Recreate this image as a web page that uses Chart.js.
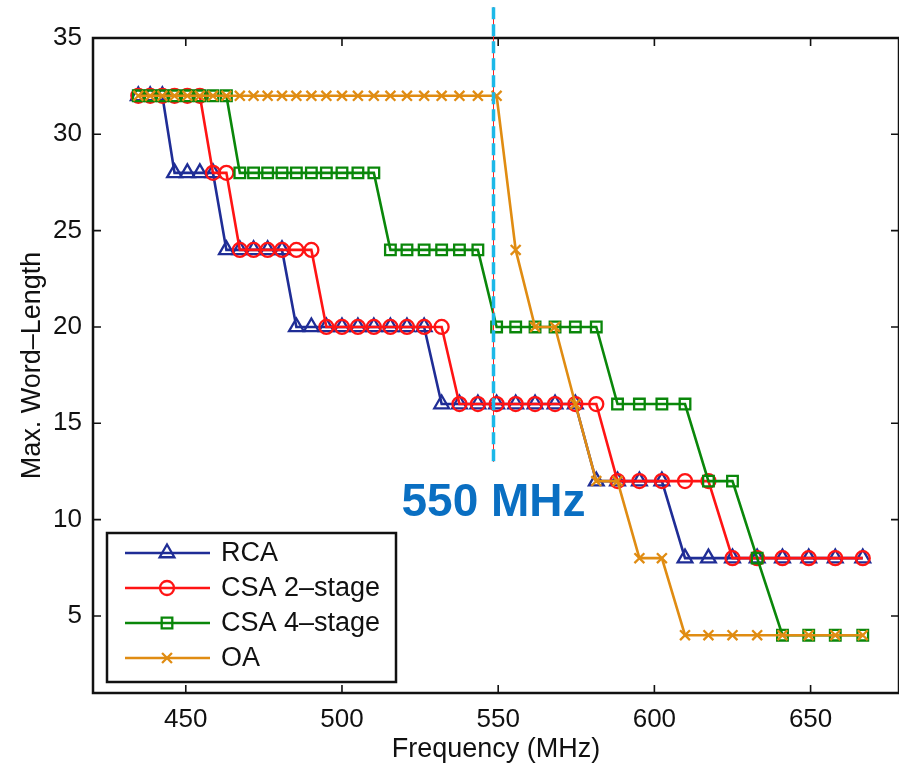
<!DOCTYPE html>
<html>
<head>
<meta charset="utf-8">
<script src="https://cdn.jsdelivr.net/npm/chart.js@4.4.1/dist/chart.umd.min.js"></script>
<style>
  html, body { margin: 0; padding: 0; background: #fff; }
  #wrap { width: 899px; height: 769px; }
</style>
</head>
<body>
<div id="wrap"><canvas id="chart" width="899" height="769"></canvas></div>
<script>
// Frequency points (MHz)
const freqs = [434.8, 438.6, 442.5, 446.4, 450.5, 454.5, 458.7, 463.0, 467.3, 471.7,
  476.2, 480.8, 485.4, 490.2, 495.0, 500.0, 505.1, 510.2, 515.5, 520.8,
  526.3, 531.9, 537.6, 543.5, 549.5, 555.6, 561.8, 568.2, 574.7, 581.4,
  588.2, 595.2, 602.4, 609.8, 617.3, 625.0, 632.9, 641.0, 649.4, 657.9, 666.7];

// Max. word-length for each design
const rca = [32, 32, 32, 28, 28, 28, 28, 24, 24, 24,
  24, 24, 20, 20, 20, 20, 20, 20, 20, 20,
  20, 16, 16, 16, 16, 16, 16, 16, 16, 12,
  12, 12, 12, 8, 8, 8, 8, 8, 8, 8, 8];
const csa2 = [32, 32, 32, 32, 32, 32, 28, 28, 24, 24,
  24, 24, 24, 24, 20, 20, 20, 20, 20, 20,
  20, 20, 16, 16, 16, 16, 16, 16, 16, 16,
  12, 12, 12, 12, 12, 8, 8, 8, 8, 8, 8];
const csa4 = [32, 32, 32, 32, 32, 32, 32, 32, 28, 28,
  28, 28, 28, 28, 28, 28, 28, 28, 24, 24,
  24, 24, 24, 24, 20, 20, 20, 20, 20, 20,
  16, 16, 16, 16, 12, 12, 8, 4, 4, 4, 4];
const oa = [32, 32, 32, 32, 32, 32, 32, 32, 32, 32,
  32, 32, 32, 32, 32, 32, 32, 32, 32, 32,
  32, 32, 32, 32, 32, 24, 20, 20, 16, 12,
  12, 8, 8, 4, 4, 4, 4, 4, 4, 4, 4];

const seriesNames = ['RCA', 'CSA 2\u2013stage', 'CSA 4\u2013stage', 'OA'];
const seriesColors = ['#1f2d96', '#ff1414', '#0a870a', '#e08c12'];
const seriesMarkers = ['triangle', 'circle', 'rect', 'crossRot'];
const markerSizes = [8.5, 7, 7.5, 7];

const xTicks = [450, 500, 550, 600, 650];
const yTicks = [5, 10, 15, 20, 25, 30, 35];

// annotation: vertical marker at the 550 MHz cut
const cutFreq = 548.5;
const cutTop = 36.6;
const cutBottom = 13;
const cutLabel = '550 MHz';

const allSeries = [rca, csa2, csa4, oa];

const datasets = allSeries.map((vals, i) => ({
  label: seriesNames[i],
  data: freqs.map((f, j) => ({x: f, y: vals[j]})),
  borderColor: seriesColors[i],
  backgroundColor: 'rgba(0,0,0,0)',
  borderWidth: 2.6,
  pointStyle: seriesMarkers[i],
  pointRadius: markerSizes[i],
  pointBorderWidth: 2.3,
  pointBorderColor: seriesColors[i],
  pointBackgroundColor: 'rgba(0,0,0,0)',
  order: 4 - i, // later series on top, like the original plot
  tension: 0
}));

// box + inward ticks, legend and annotation
const decor = {
  id: 'decor',
  afterDraw(chart) {
    const ctx = chart.ctx;
    const a = chart.chartArea;
    const xs = chart.scales.x, ys = chart.scales.y;
    ctx.save();
    ctx.strokeStyle = '#111';
    ctx.lineWidth = 2.5;
    ctx.strokeRect(a.left, a.top, a.right - a.left, a.bottom - a.top);
    ctx.lineWidth = 1.6;
    ctx.beginPath();
    xTicks.forEach(v => {
      const px = xs.getPixelForValue(v);
      ctx.moveTo(px, a.bottom); ctx.lineTo(px, a.bottom - 8);
      ctx.moveTo(px, a.top); ctx.lineTo(px, a.top + 8);
    });
    yTicks.forEach(v => {
      const py = ys.getPixelForValue(v);
      ctx.moveTo(a.left, py); ctx.lineTo(a.left + 8, py);
      ctx.moveTo(a.right, py); ctx.lineTo(a.right - 8, py);
    });
    ctx.stroke();

    // legend
    const lx = 107, ly = 533, lw = 289, lh = 149;
    ctx.fillStyle = '#fff';
    ctx.fillRect(lx, ly, lw, lh);
    ctx.lineWidth = 2.5;
    ctx.strokeStyle = '#111';
    ctx.strokeRect(lx, ly, lw, lh);
    ctx.font = '27px "Liberation Sans", Arial, sans-serif';
    ctx.textBaseline = 'middle';
    seriesNames.forEach((name, i) => {
      const y = ly + 20 + i * 35;
      ctx.strokeStyle = seriesColors[i];
      ctx.lineWidth = 2.6;
      ctx.beginPath();
      ctx.moveTo(lx + 18, y); ctx.lineTo(lx + 103, y);
      ctx.stroke();
      ctx.lineWidth = 2.3;
      ctx.fillStyle = 'rgba(0,0,0,0)';
      Chart.helpers.drawPoint(ctx, {pointStyle: seriesMarkers[i], radius: markerSizes[i], borderWidth: 2.3, rotation: 0}, lx + 60, y);
      ctx.fillStyle = '#111';
      ctx.fillText(name, lx + 114, y + 1);
    });

    // 550 MHz cut line
    const cx = xs.getPixelForValue(cutFreq);
    const t = ys.getPixelForValue(cutTop), b = ys.getPixelForValue(cutBottom);
    ctx.strokeStyle = '#ff2020';
    ctx.lineWidth = 1;
    ctx.beginPath(); ctx.moveTo(cx, t); ctx.lineTo(cx, b); ctx.stroke();
    ctx.strokeStyle = '#1cb8e8';
    ctx.lineWidth = 3.5;
    ctx.setLineDash([12, 5]);
    ctx.beginPath(); ctx.moveTo(cx, t); ctx.lineTo(cx, b); ctx.stroke();
    ctx.setLineDash([]);
    ctx.fillStyle = '#0a6fc2';
    ctx.font = 'bold 46px "Liberation Sans", Arial, sans-serif';
    ctx.textAlign = 'center';
    ctx.textBaseline = 'alphabetic';
    ctx.fillText(cutLabel, cx, ys.getPixelForValue(10.2));
    ctx.restore();
  }
};

new Chart(document.getElementById('chart'), {
  type: 'line',
  data: { datasets: datasets },
  options: {
    responsive: false,
    animation: false,
    devicePixelRatio: 1,
    layout: { autoPadding: false, padding: { top: 38, right: 0, left: 0, bottom: 0 } },
    plugins: { legend: { display: false }, tooltip: { enabled: false } },
    scales: {
      x: {
        type: 'linear',
        min: 420.3,
        max: 678.3,
        afterBuildTicks: (s) => { s.ticks = xTicks.map(v => ({value: v})); },
        afterFit: (s) => { s.height = 76; s.paddingLeft = 0; s.paddingRight = 0; },
        grid: { display: false, drawTicks: false },
        border: { display: false },
        ticks: {
          padding: 11,
          color: '#111',
          font: { family: '"Liberation Sans", Arial, sans-serif', size: 26 }
        },
        title: {
          display: true,
          text: 'Frequency (MHz)',
          color: '#111',
          padding: { top: 0, bottom: 3 },
          font: { family: '"Liberation Sans", Arial, sans-serif', size: 27 }
        }
      },
      y: {
        min: 1,
        max: 35,
        afterBuildTicks: (s) => { s.ticks = yTicks.map(v => ({value: v})); },
        afterFit: (s) => { s.width = 93; s.paddingTop = 0; s.paddingBottom = 0; },
        grid: { display: false, drawTicks: false },
        border: { display: false },
        ticks: {
          padding: 11,
          color: '#111',
          font: { family: '"Liberation Sans", Arial, sans-serif', size: 26 }
        },
        title: {
          display: true,
          text: 'Max. Word\u2013Length',
          color: '#111',
          padding: { top: 16, bottom: 0 },
          font: { family: '"Liberation Sans", Arial, sans-serif', size: 27 }
        }
      }
    }
  },
  plugins: [decor]
});
</script>
</body>
</html>
